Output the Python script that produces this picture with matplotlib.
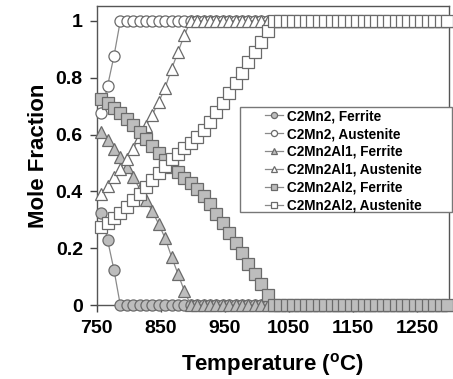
import matplotlib
matplotlib.use("Agg")
import matplotlib.pyplot as plt
import matplotlib.patches as mpatches
import numpy as np

plt.rcParams['font.family'] = ['Liberation Sans', 'DejaVu Sans']
plt.rcParams['font.weight'] = 'bold'

# calculation grid: 10 K steps, converted to C
temp = np.arange(1030, 1580, 10) - 273.15

# ferrite mole fraction; austenite is the remainder
c2mn2_fer = [0.325, 0.23, 0.125]
c2mn2al1_fer = [0.61, 0.58, 0.55, 0.52, 0.485, 0.45, 0.41, 0.37, 0.33,
                0.285, 0.235, 0.17, 0.11, 0.05]
c2mn2al2_fer = [0.725, 0.712, 0.695, 0.675, 0.655, 0.632, 0.61, 0.585, 0.56,
                0.535, 0.51, 0.487, 0.467, 0.447, 0.428, 0.41, 0.385, 0.355,
                0.322, 0.29, 0.255, 0.218, 0.182, 0.146, 0.11, 0.074, 0.035]


def pad(vals):
    out = np.zeros(len(temp))
    out[:len(vals)] = vals
    return out


fer1 = pad(c2mn2_fer)
fer2 = pad(c2mn2al1_fer)
fer3 = pad(c2mn2al2_fer)

series = [
    (fer1, 'o', '#bdbdbd', 'C2Mn2, Ferrite'),
    (1 - fer1, 'o', 'white', 'C2Mn2, Austenite'),
    (fer2, '^', '#bdbdbd', 'C2Mn2Al1, Ferrite'),
    (1 - fer2, '^', 'white', 'C2Mn2Al1, Austenite'),
    (fer3, 's', '#bdbdbd', 'C2Mn2Al2, Ferrite'),
    (1 - fer3, 's', 'white', 'C2Mn2Al2, Austenite'),
]

fig = plt.figure(figsize=(4.53, 3.79), dpi=100)
ax = fig.add_axes([0.2135, 0.195, 0.7775, 0.789])

for y, m, fc, lab in series:
    ax.plot(temp, y, marker=m, markersize=9 if m == '^' else 8,
            markerfacecolor=fc, markeredgecolor='#6a6a6a', markeredgewidth=0.9,
            color='#8a8a8a', linewidth=0.9, label=lab, clip_on=False, zorder=3)

ax.set_xlim(750, 1300)
ax.set_ylim(0, 1.052)
ax.set_xticks([750, 850, 950, 1050, 1150, 1250])
ax.set_yticks([0, 0.2, 0.4, 0.6, 0.8, 1])
ax.set_yticklabels(['0', '0.2', '0.4', '0.6', '0.8', '1'])
ax.tick_params(direction='out', length=5, width=1, color='#444444',
               labelsize=14)
ax.tick_params(axis='x', pad=6)
ax.tick_params(axis='y', pad=5)
for s in ax.spines.values():
    s.set_color('#555555')
    s.set_linewidth(1)

ax.set_xlabel('Temperature ($\\mathregular{^{o}}$C)', fontsize=16,
              fontweight='bold', labelpad=10)
ax.set_ylabel('Mole Fraction', fontsize=16, fontweight='bold', labelpad=5)

# legend text without frame, then a wider box drawn around it
leg = ax.legend(loc='upper left', bbox_to_anchor=(0.479, 0.655),
                fontsize=9.8, markerscale=0.55, handlelength=1.3,
                handletextpad=0.3, labelspacing=0.28, borderpad=0.0,
                frameon=False, borderaxespad=0)
leg.set_zorder(6)
box = mpatches.Rectangle((0.407, 0.311), 0.602, 0.351, transform=ax.transAxes,
                         facecolor='white', edgecolor='#777777', linewidth=1,
                         clip_on=False, zorder=5)
ax.add_patch(box)

fig.savefig('out.png', dpi=100)
